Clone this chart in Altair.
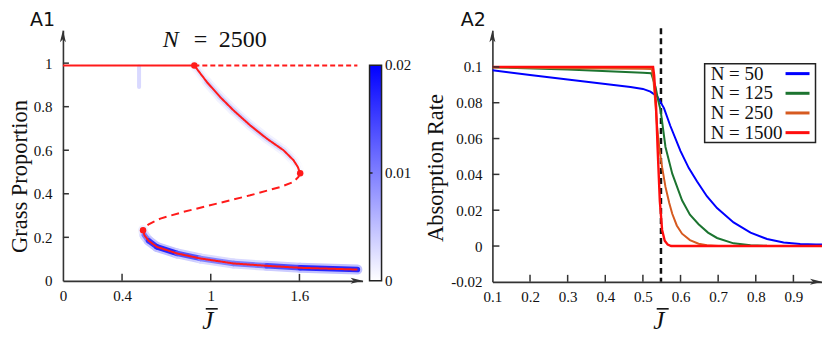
import altair as alt
import pandas as pd

# ============================ A1 data ============================
a1_xticks = [0, 0.4, 1, 1.6]
a1_yticks = [0, 0.2, 0.4, 0.6, 0.8, 1]
a1_title_parts = ["N", "=", "2500"]
cbar_values = [0, 0.01, 0.02]
cbar_labels = ["0", "0.01", "0.02"]

upper_J = [0.0, 0.889]
upper_y = [0.989, 0.989]
upper_unst_J = [0.889, 1.992]
upper_unst_y = [0.989, 0.989]

mid_J = [0.889, 0.974, 1.064, 1.154, 1.267, 1.380, 1.492, 1.560, 1.589, 1.605]
mid_y = [0.989, 0.913, 0.844, 0.783, 0.714, 0.653, 0.600, 0.554, 0.523, 0.494]
mid_density = [0.001, 0.003, 0.0035, 0.0035, 0.0035, 0.0035, 0.003, 0.002, 0.001, 0.0]

unst_J = [1.605, 1.593, 1.559, 1.470, 1.267, 1.042, 0.816, 0.659, 0.580, 0.551, 0.542]
unst_y = [0.494, 0.477, 0.454, 0.431, 0.393, 0.355, 0.317, 0.286, 0.260, 0.243, 0.233]

low_J = [0.542, 0.551, 0.580, 0.636, 0.772, 0.929, 1.154, 1.380, 1.605, 1.992]
low_y = [0.233, 0.210, 0.184, 0.156, 0.126, 0.103, 0.080, 0.069, 0.060, 0.052]
low_density = [0.002, 0.007, 0.014, 0.018, 0.016, 0.011, 0.009, 0.012, 0.016, 0.018]

smudge_J = [0.515, 0.515]
smudge_y = [0.985, 0.89]
smudge_density = [0.006, 0.0]

fold_J = [0.889, 1.605, 0.542]
fold_y = [0.989, 0.494, 0.233]

# ============================ A2 data ============================
a2_xticks = [0.1, 0.2, 0.3, 0.4, 0.5, 0.6, 0.7, 0.8, 0.9]
a2_yticks = [-0.02, 0, 0.02, 0.04, 0.06, 0.08, 0.1]
series = ["N = 50", "N = 125", "N = 250", "N = 1500"]
series_colors = ["#0000ff", "#1c7430", "#d65a20", "#ff0d0d"]
critical_J = [0.548]

J50 = [0.1, 0.2, 0.3, 0.4, 0.467, 0.5, 0.52, 0.538, 0.556, 0.573, 0.6, 0.622, 0.644,
       0.67, 0.697, 0.741, 0.786, 0.83, 0.874, 0.918, 0.96, 1.0]
A50 = [0.0981, 0.0955, 0.093, 0.0905, 0.0888, 0.0877, 0.0862, 0.0835, 0.077, 0.067,
       0.053, 0.0435, 0.036, 0.0278, 0.0212, 0.0132, 0.0075, 0.0039, 0.002, 0.0012,
       0.0009, 0.0007]
J125 = [0.1, 0.3, 0.5, 0.522, 0.5336, 0.5405, 0.547, 0.56, 0.578, 0.604, 0.625, 0.648,
        0.673, 0.697, 0.741, 0.786, 0.83, 1.0]
A125 = [0.0998, 0.0985, 0.0968, 0.0965, 0.0888, 0.0814, 0.0758, 0.0553, 0.0404, 0.0255,
        0.0175, 0.0122, 0.0075, 0.0045, 0.0015, 0.0005, 0.0001, 0.0]
J250 = [0.1, 0.3, 0.5, 0.524, 0.528, 0.533, 0.538, 0.544, 0.551, 0.56, 0.57, 0.578,
        0.59, 0.604, 0.625, 0.648, 0.67, 0.7, 1.0]
A250 = [0.0997, 0.0993, 0.099, 0.0988, 0.093, 0.08, 0.066, 0.054, 0.044, 0.033, 0.024,
        0.018, 0.0115, 0.0069, 0.0033, 0.0013, 0.0004, 0.0, 0.0]
J1500 = [0.1, 0.527, 0.530, 0.535, 0.539, 0.545, 0.551, 0.558, 0.566, 0.575, 1.0]
A1500 = [0.1, 0.1, 0.095, 0.078, 0.055, 0.025, 0.009, 0.003, 0.0008, 0.0, 0.0]

# ============================ styling ============================
SERIF = "Liberation Serif"
SANS = "DejaVu Sans"
AX = "#333333"
TXT = "#111111"
RED = "#ff1a1a"
LOW_C, HIGH_C = "#ffffff", "#0000ff"
ARROW_RIGHT = "M0,0 L-2.4,-0.6 L-1.8,0 L-2.4,0.6 Z"
ARROW_UP = "M0,0 L-0.6,2.4 L0,1.8 L0.6,2.4 Z"

LW, LH = 300, 251
RW, RH = 330, 252
CB_X, CB_Y, CB_LEN, CB_W = 307, 35, 216, 12

dummy = pd.DataFrame({"a": [0]})


def text_mark(txt, x, y, size, font=SERIF, style="normal", align="left", color=TXT,
              baseline="alphabetic"):
    return alt.Chart(pd.DataFrame({"t": [txt]})).mark_text(
        font=font, fontSize=size, fontStyle=style, align=align,
        baseline=baseline, color=color
    ).encode(text="t:N", x=alt.value(x), y=alt.value(y))


def overbar(x1, x2, y):
    return alt.Chart(dummy).mark_rule(color=TXT, strokeWidth=1.6).encode(
        x=alt.value(x1), x2=alt.value(x2), y=alt.value(y))


# ============================ A1 panel ============================
XL = alt.Scale(domain=[0, 2.027], nice=False, zero=False)
YL = alt.Scale(domain=[0, 1.1514], nice=False, zero=False)
axXL = alt.Axis(values=a1_xticks, format="~g", title=None, ticks=False, tickSize=0,
                grid=False, domainColor=AX, domainWidth=1.6, labelFont=SERIF,
                labelFontSize=15, labelColor=TXT, labelPadding=8, labelFlush=False)
axYL = alt.Axis(values=a1_yticks, format="~g", title="Grass Proportion", titleFont=SERIF,
                titleFontSize=22.5, titleFontWeight="normal", titleColor=TXT,
                titleX=-36.2, titleY=146, titleAngle=270, titleBaseline="alphabetic",
                titleAlign="center", ticks=False, tickSize=0, grid=False,
                domainColor=AX, domainWidth=1.6, labelFont=SERIF, labelFontSize=15,
                labelColor=TXT, labelPadding=11, labelFlush=False)


def xl(f):
    return alt.X(f"{f}:Q", scale=XL, axis=axXL)


def yl(f):
    return alt.Y(f"{f}:Q", scale=YL, axis=axYL)


CMAX = cbar_values[-1]
cscale = alt.Scale(domain=[0, CMAX], range=[LOW_C, HIGH_C], interpolate="rgb", clamp=True)
cscale_glow = alt.Scale(domain=[0, 0.07], range=[LOW_C, HIGH_C], interpolate="rgb",
                        clamp=True)


def segs(J, y, d, name):
    rows = []
    for i in range(len(J) - 1):
        rows.append(dict(branch=name, J=J[i], y=y[i], J2=J[i + 1], y2=y[i + 1],
                         d=(d[i] + d[i + 1]) / 2))
    return rows


halo_df = pd.DataFrame(segs(mid_J, mid_y, mid_density, "mid")
                       + segs(low_J, low_y, low_density, "low"))
smudge_df = pd.DataFrame(segs(smudge_J, smudge_y, smudge_density, "smudge"))

halo_outer = alt.Chart(halo_df).mark_rule(
    strokeWidth=10, strokeCap="round", opacity=1).encode(
    x=xl("J"), y=yl("y"), x2="J2:Q", y2="y2:Q",
    color=alt.Color("d:Q", scale=cscale_glow, legend=None))

halo_inner = alt.Chart(halo_df).mark_rule(strokeWidth=5.5, strokeCap="round", opacity=1).encode(
    x=xl("J"), y=yl("y"), x2="J2:Q", y2="y2:Q",
    color=alt.Color("d:Q", scale=cscale, legend=None))

smudge = alt.Chart(smudge_df).mark_rule(strokeWidth=4, strokeCap="round", opacity=1).encode(
    x=xl("J"), y=yl("y"), x2="J2:Q", y2="y2:Q",
    color=alt.Color("d:Q", scale=cscale, legend=None))


def branch(name, kind, J, y):
    return pd.DataFrame({"branch": name, "kind": kind, "J": J, "y": y,
                         "idx": list(range(len(J)))})


lines_df = pd.concat([
    branch("upper", "stable", upper_J, upper_y),
    branch("upper_u", "unstable_top", upper_unst_J, upper_unst_y),
    branch("mid", "stable", mid_J, mid_y),
    branch("unst", "unstable_mid", unst_J, unst_y),
    branch("low", "stable", low_J, low_y),
], ignore_index=True)

red_lines = alt.Chart(lines_df).mark_line(color=RED, strokeWidth=2).encode(
    x=xl("J"), y=yl("y"), detail="branch:N", order="idx:Q",
    strokeDash=alt.StrokeDash("kind:N", scale=alt.Scale(
        domain=["stable", "unstable_top", "unstable_mid"],
        range=[[1, 0], [5, 3], [8, 5]]), legend=None))

folds = alt.Chart(pd.DataFrame({"J": fold_J, "y": fold_y})).mark_circle(
    size=42, color=RED, opacity=1).encode(x=xl("J"), y=yl("y"))

xt_L = alt.Chart(pd.DataFrame({"J": [v for v in a1_xticks if v > 0]})).mark_rule(
    color=AX, strokeWidth=1.5).encode(x=xl("J"), y=alt.value(LH), y2=alt.value(LH - 7))
yt_L = alt.Chart(pd.DataFrame({"y": [v for v in a1_yticks if v > 0]})).mark_rule(
    color=AX, strokeWidth=1.5).encode(y=yl("y"), x=alt.value(0), x2=alt.value(6))

# colour bar: a gradient rectangle with the same end colours as the density scale
cbar_rect = alt.Chart(dummy).mark_rect(
    fill=alt.Gradient(gradient="linear", x1=0, x2=0, y1=1, y2=0,
                      stops=[alt.GradientStop(color=LOW_C, offset=0),
                             alt.GradientStop(color=HIGH_C, offset=1)]),
    stroke="#222222", strokeWidth=1.5).encode(
    x=alt.value(CB_X), x2=alt.value(CB_X + CB_W), y=alt.value(CB_Y),
    y2=alt.value(CB_Y + CB_LEN))

cbar_layers = [cbar_rect]
for v, lab in zip(cbar_values, cbar_labels):
    py = CB_Y + CB_LEN * (1 - v / CMAX)
    cbar_layers.append(text_mark(lab, CB_X + CB_W + 3.5, py, 15, baseline="middle"))
    if 0 < v < CMAX:
        cbar_layers.append(alt.Chart(dummy).mark_rule(color="#222222", strokeWidth=1.5).encode(
            x=alt.value(CB_X), x2=alt.value(CB_X + 3), y=alt.value(py)))

arrR_L = alt.Chart(pd.DataFrame({"J": [2.027], "y": [0]})).mark_point(
    shape=ARROW_RIGHT, filled=True, size=100, color=AX, opacity=1, strokeWidth=0).encode(
    x=xl("J"), y=yl("y"))
arrU_L = alt.Chart(pd.DataFrame({"J": [0], "y": [1.1514]})).mark_point(
    shape=ARROW_UP, filled=True, size=100, color=AX, opacity=1, strokeWidth=0).encode(
    x=xl("J"), y=yl("y"))

left = alt.layer(
    halo_outer, halo_inner, smudge, red_lines, folds, xt_L, yt_L, arrR_L, arrU_L,
    text_mark("A1", -33, -4, 19, font=SANS),
    text_mark(a1_title_parts[0], 100, 17, 24, style="italic"),
    text_mark(a1_title_parts[1], 131, 17, 24),
    text_mark(a1_title_parts[2], 156, 17, 24),
    text_mark("J", 145, 299, 25, style="italic", align="center"),
    overbar(143, 155, 279),
    *cbar_layers,
).resolve_scale(color="independent").properties(width=LW, height=LH)

# ============================ A2 panel ============================
XR = alt.Scale(domain=[0.1, 0.976], nice=False, zero=False)
YR = alt.Scale(domain=[-0.02, 0.1205], nice=False, zero=False)
axXR = alt.Axis(values=a2_xticks, format=".1f", title=None, ticks=False, tickSize=0,
                grid=False, domainColor=AX, domainWidth=1.6, labelFont=SERIF,
                labelFontSize=15, labelColor=TXT, labelPadding=8, labelFlush=False)
axYR = alt.Axis(values=a2_yticks, format="~g", labelExpr="replace(datum.label, '\u2212', '-')",
                title="Absorption Rate", titleFont=SERIF, titleFontSize=22.5,
                titleFontWeight="normal", titleColor=TXT, titleX=-50, titleY=137.5,
                titleAngle=270, titleBaseline="alphabetic", titleAlign="center",
                ticks=False, tickSize=0, grid=False, domainColor=AX, domainWidth=1.6,
                labelFont=SERIF, labelFontSize=15, labelColor=TXT, labelPadding=10.5,
                labelFlush=False)


def xr(f):
    return alt.X(f"{f}:Q", scale=XR, axis=axXR)


def yr(f):
    return alt.Y(f"{f}:Q", scale=YR, axis=axYR)


crit = alt.Chart(pd.DataFrame({"J": critical_J})).mark_rule(
    color="#111111", strokeWidth=2.5, strokeDash=[6, 4]).encode(
    x=xr("J"), y=alt.value(-2), y2=alt.value(RH))

curve_layers = []
for name, col, Js, As in zip(series, series_colors, [J50, J125, J250, J1500],
                             [A50, A125, A250, A1500]):
    df = pd.DataFrame({"J": Js, "A": As, "N": name})
    curve_layers.append(alt.Chart(df).mark_line(
        color=col, strokeWidth=2.4 if name == series[-1] else 2, clip=True).encode(
        x=xr("J"), y=yr("A")))

legend_box = alt.Chart(dummy).mark_rect(fill="white", stroke="#222222", strokeWidth=1.5).encode(
    x=alt.value(212.5), x2=alt.value(323.5), y=alt.value(33.5), y2=alt.value(112.5))
legend_items = []
for i, (name, col) in enumerate(zip(series, series_colors)):
    legend_items.append(text_mark(name, 218.5, 49.5 + 19.7 * i, 19))
    legend_items.append(alt.Chart(dummy).mark_rule(color=col, strokeWidth=3).encode(
        x=alt.value(293.5), x2=alt.value(317.5), y=alt.value(43.5 + 19.7 * i)))

xt_R = alt.Chart(pd.DataFrame({"J": [v for v in a2_xticks if v > 0.1]})).mark_rule(
    color=AX, strokeWidth=1.5).encode(x=xr("J"), y=alt.value(RH), y2=alt.value(RH - 7))
yt_R = alt.Chart(pd.DataFrame({"A": [v for v in a2_yticks if v > -0.02]})).mark_rule(
    color=AX, strokeWidth=1.5).encode(y=yr("A"), x=alt.value(0), x2=alt.value(7))

arrR_R = alt.Chart(pd.DataFrame({"J": [0.976], "A": [-0.02]})).mark_point(
    shape=ARROW_RIGHT, filled=True, size=100, color=AX, opacity=1, strokeWidth=0).encode(
    x=xr("J"), y=yr("A"))
arrU_R = alt.Chart(pd.DataFrame({"J": [0.1], "A": [0.1205]})).mark_point(
    shape=ARROW_UP, filled=True, size=100, color=AX, opacity=1, strokeWidth=0).encode(
    x=xr("J"), y=yr("A"))

right = alt.layer(
    crit, *curve_layers, legend_box, *legend_items, xt_R, yt_R, arrR_R, arrU_R,
    text_mark("A2", -31.7, -4, 19, font=SANS),
    text_mark("J", 166.6, 299, 25, style="italic", align="center"),
    overbar(164.5, 176.5, 279),
).properties(width=RW, height=RH)

chart = alt.hconcat(left, right, spacing=130, bounds="flush").properties(
    padding={"left": 0, "top": 3, "right": 0, "bottom": 0}
).configure_view(stroke=None)

chart.save("out.html", embed_options={"renderer": "svg", "actions": False})
